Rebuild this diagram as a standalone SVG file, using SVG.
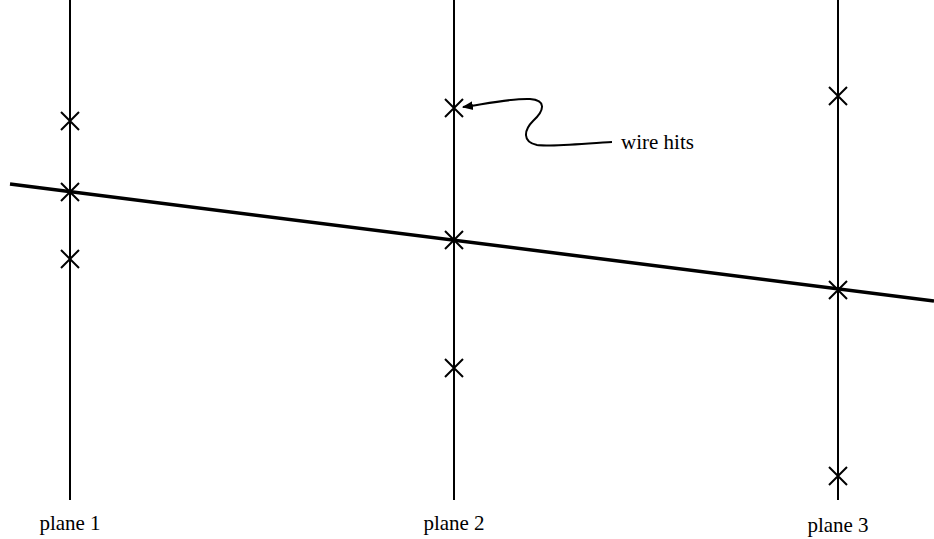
<svg xmlns="http://www.w3.org/2000/svg" width="934" height="539" viewBox="0 0 934 539">
<style>
.plane{stroke:#000;stroke-width:2;fill:none}
.hit{stroke:#000;stroke-width:2;fill:none}
.track{stroke:#000;stroke-width:3.5;fill:none}
.lbl{font-family:"Liberation Serif","Times New Roman",serif;font-size:21px;fill:#000}
</style>
<defs>
<marker id="ah" viewBox="0 0 10 10" refX="9" refY="5" markerWidth="11" markerHeight="11" markerUnits="userSpaceOnUse" orient="auto">
<path d="M0,1 L10,5 L0,9 Z" fill="#000"/>
</marker>
<path id="x" d="M-9,-9 L9,9 M-9,9 L9,-9"/>
</defs>
<g id="plane1">
<line class="plane" x1="70" y1="0" x2="70" y2="500"/>
<use href="#x" class="hit" x="70" y="121"/>
<use href="#x" class="hit" x="70" y="192"/>
<use href="#x" class="hit" x="70" y="259"/>
<text class="lbl" x="70" y="530" text-anchor="middle">plane 1</text>
</g>
<g id="plane2">
<line class="plane" x1="454" y1="0" x2="454" y2="500"/>
<use href="#x" class="hit" x="454" y="108"/>
<use href="#x" class="hit" x="454" y="240"/>
<use href="#x" class="hit" x="454" y="368"/>
<text class="lbl" x="454" y="530" text-anchor="middle">plane 2</text>
</g>
<g id="plane3">
<line class="plane" x1="838" y1="0" x2="838" y2="500"/>
<use href="#x" class="hit" x="838" y="96"/>
<use href="#x" class="hit" x="838" y="290"/>
<use href="#x" class="hit" x="838" y="476"/>
<text class="lbl" x="838" y="532" text-anchor="middle">plane 3</text>
</g>
<g id="label">
<text class="lbl" x="621" y="149">wire hits</text>
</g>
<g id="connectors">
<line class="track" x1="10" y1="184" x2="934" y2="301"/>
<path d="M612,142 C590,143 550,147 537,145 C522,142 524,130 533,121 C545,110 546,100 530,99 C515,98 490,103 463,107" stroke="#000" stroke-width="2" fill="none" marker-end="url(#ah)"/>
</g>
</svg>
